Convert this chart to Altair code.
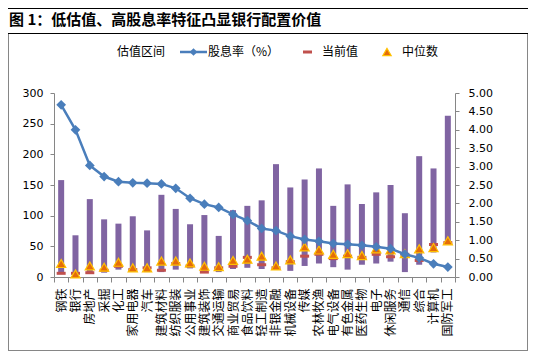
import altair as alt
import pandas as pd

categories = ["钢铁", "银行", "房地产", "采掘", "化工", "家用电器", "汽车", "建筑材料",
              "纺织服装", "公用事业", "建筑装饰", "交通运输", "商业贸易", "食品饮料",
              "轻工制造", "非银金融", "机械设备", "传媒", "农林牧渔", "电气设备",
              "有色金属", "医药生物", "电子", "休闲服务", "通信", "综合", "计算机", "国防军工"]
range_high = [158, 68, 127, 94, 87, 99, 76, 134, 111, 86, 101, 67, 109, 116,
              125, 184, 146, 159, 177, 116, 151, 119, 138, 150, 104, 197, 177, 263]
range_low = [5, 5, 5, 7, 12, 9, 8, 8, 12, 14, 8, 8, 13, 15,
             13, 12, 10, 18, 22, 16, 12, 20, 22, 25, 8, 20, 40, 55]
current_val = [6, 6, 7, 11, 17.5, 12, 15, 11, 22, 18, 8, 15, 17.5, 32,
               20, 15, 25, 34, 37, 30, 34, 32, 37, 33, 37, 27, 53, 56]
median_val = [22, 5, 18, 16, 24, 15, 15, 26, 26, 23, 17.5, 17, 27, 29,
              34, 18, 28, 49, 44, 37, 38, 35, 46, 44, 38, 46, 48, 59]
dividend = [4.68, 4.00, 3.03, 2.73, 2.59, 2.56, 2.55, 2.53, 2.41, 2.14, 1.98, 1.89, 1.70, 1.53,
            1.32, 1.26, 1.11, 1.02, 0.97, 0.91, 0.89, 0.86, 0.82, 0.77, 0.62, 0.52, 0.36, 0.27]
left_ticks = [0, 50, 100, 150, 200, 250, 300]
right_ticks = [0, 0.5, 1.0, 1.5, 2.0, 2.5, 3.0, 3.5, 4.0, 4.5, 5.0]
title_text = "图 1：低估值、高股息率特征凸显银行配置价值"
legend_labels = ["估值区间", "股息率（%）", "当前值", "中位数"]

df = pd.DataFrame({"industry": categories, "high": range_high, "low": range_low,
                   "cur": current_val, "med": median_val, "div": dividend})

CJK = "Noto Sans CJK SC"
NUM = "DejaVu Sans"
AXC = "#868686"
PURPLE = "#8064A2"
BLUE = "#4A7EBB"
RED = "#C0504D"
ORANGE = "#E46C0A"
GOLD = "#FFC000"

W, H = 401, 184
OX, OY = 54, 93  # plot origin on the page (for decoration placement)

x_enc = alt.X("industry:N", sort=categories,
              scale=alt.Scale(paddingInner=0, paddingOuter=0),
              axis=alt.Axis(title=None, labelAngle=-90, labelFont=CJK, labelFontSize=12,
                            labelColor="#000000", labelPadding=6, tickBand="extent",
                            tickSize=5, tickColor=AXC, domainColor=AXC, grid=False,
                            labelOverlap=False))

yL_scale = alt.Scale(domain=[0, 300], nice=False, zero=True)
yL_axis = alt.Axis(title=None, values=left_ticks, labelFont=NUM, labelFontSize=11,
                   labelColor="#000000", tickSize=4, tickColor=AXC, domainColor=AXC,
                   labelPadding=7, grid=False)

bars = alt.Chart(df).mark_bar(width=6, color=PURPLE).encode(
    x=x_enc, y=alt.Y("low:Q", scale=yL_scale, axis=yL_axis), y2="high:Q")
dash = alt.Chart(df).mark_tick(color=RED, thickness=3, size=9, opacity=1).encode(
    x=x_enc, y=alt.Y("cur:Q", scale=yL_scale, axis=yL_axis))
tri = alt.Chart(df).mark_point(shape="triangle-up", filled=True, fill=ORANGE, stroke=GOLD,
                               strokeWidth=1.2, size=85, opacity=1).encode(
    x=x_enc, y=alt.Y("med:Q", scale=yL_scale, axis=yL_axis))
left = alt.layer(bars, dash, tri)

line = alt.Chart(df).mark_line(
    color=BLUE, strokeWidth=2.5,
    point=alt.OverlayMarkDef(shape="diamond", filled=True, size=95, color=BLUE, opacity=1)
).encode(
    x=x_enc,
    y=alt.Y("div:Q", scale=alt.Scale(domain=[0, 5], nice=False),
            axis=alt.Axis(title=None, orient="right", values=right_ticks, format=".2f",
                          labelFont=NUM, labelFontSize=11, labelColor="#000000",
                          tickSize=4, tickColor=AXC, domainColor=AXC, labelPadding=9,
                          grid=False)))

main = alt.layer(left, line).resolve_scale(y="independent")


def band(x1, x2, y1, y2, color, tag):
    d = pd.DataFrame({"k": [tag]})
    return alt.Chart(d).mark_rect(color=color, opacity=1).encode(
        x=alt.value(x1 - OX), x2=alt.value(x2 - OX),
        y=alt.value(y1 - OY), y2=alt.value(y2 - OY))


frame = [
    band(8, 528, 8, 9, "#000000", "top"),
    band(8, 528, 33, 34, "#000000", "sep"),
    band(8, 9, 34, 351, AXC, "left"),
    band(527, 528, 34, 351, AXC, "right"),
    band(8, 528, 350, 351, AXC, "bottom"),
]


def txt(label, x, y, size, weight, tag):
    d = pd.DataFrame({"k": [tag]})
    return alt.Chart(d).mark_text(text=label, font=CJK, fontSize=size, fontWeight=weight,
                                  align="left", baseline="middle", color="#000000").encode(
        x=alt.value(x - OX), y=alt.value(y - OY))


title = txt(title_text, 9, 20, 15, "bold", "title")

LY = 52
legend = [
    txt(legend_labels[0], 117, LY, 12, "normal", "t1"),
    band(180, 207, LY - 1.25, LY + 1.25, BLUE, "l1"),
    alt.Chart(pd.DataFrame({"k": ["p1"]})).mark_point(
        shape="diamond", filled=True, size=60, color=BLUE, opacity=1).encode(
        x=alt.value(193.5 - OX), y=alt.value(LY - OY)),
    txt(legend_labels[1], 208, LY, 12, "normal", "t2"),
    band(303, 312, LY - 1.5, LY + 1.5, RED, "l2"),
    txt(legend_labels[2], 322, LY, 12, "normal", "t3"),
    alt.Chart(pd.DataFrame({"k": ["p2"]})).mark_point(
        shape="triangle-up", filled=True, fill=ORANGE, stroke=GOLD,
        strokeWidth=1.2, size=70, opacity=1).encode(
        x=alt.value(387 - OX), y=alt.value(LY - OY)),
    txt(legend_labels[3], 402, LY, 12, "normal", "t4"),
]

chart = alt.layer(main, *frame, title, *legend).properties(
    width=W, height=H,
    autosize=alt.AutoSizeParams(type="none"),
    padding={"left": OX - 8, "top": OY - 8, "right": 520 - (OX - 8) - W, "bottom": 344 - (OY - 8) - H},
).configure_view(stroke=None)

chart.save("out.html", embed_options={"renderer": "svg", "actions": False})
